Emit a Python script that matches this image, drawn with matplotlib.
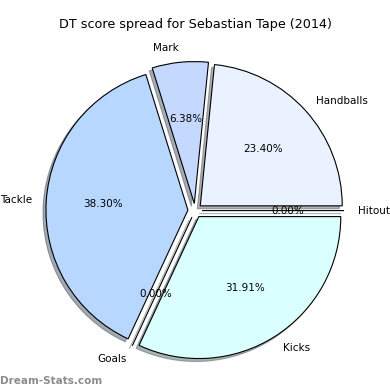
import matplotlib
matplotlib.use("Agg")
import matplotlib.pyplot as plt

categories = ["Handballs", "Mark", "Tackle", "Goals", "Kicks", "Hitout"]
values = [11, 3, 18, 0, 15, 0]
colors = ["#eaf1ff", "#c5d9ff", "#b7d7ff", "#d9ffff", "#d9ffff", "#d9ffff"]
explode = [0.05] * len(values)

fig = plt.figure(figsize=(3.9, 3.9), dpi=100)
ax = fig.add_axes([0.045, 0.005, 0.91, 0.91])
wedges, texts, autotexts = ax.pie(values, labels=categories, colors=colors, explode=explode,
                                  autopct="%1.2f%%", startangle=0,
                                  shadow={"ox": -0.015, "oy": -0.015, "shade": 0.6},
                                  wedgeprops={"edgecolor": "black", "linewidth": 0.8},
                                  textprops={"fontsize": 7.5})
ax.set_aspect("equal")
fig.suptitle("DT score spread for Sebastian Tape (2014)", fontsize=9.2, y=0.953)
fig.text(0.0, 0.015, "Dream-Stats.com", fontsize=7.5, color="#8c8c8c", fontweight="bold")
fig.savefig("out.png", dpi=100)
